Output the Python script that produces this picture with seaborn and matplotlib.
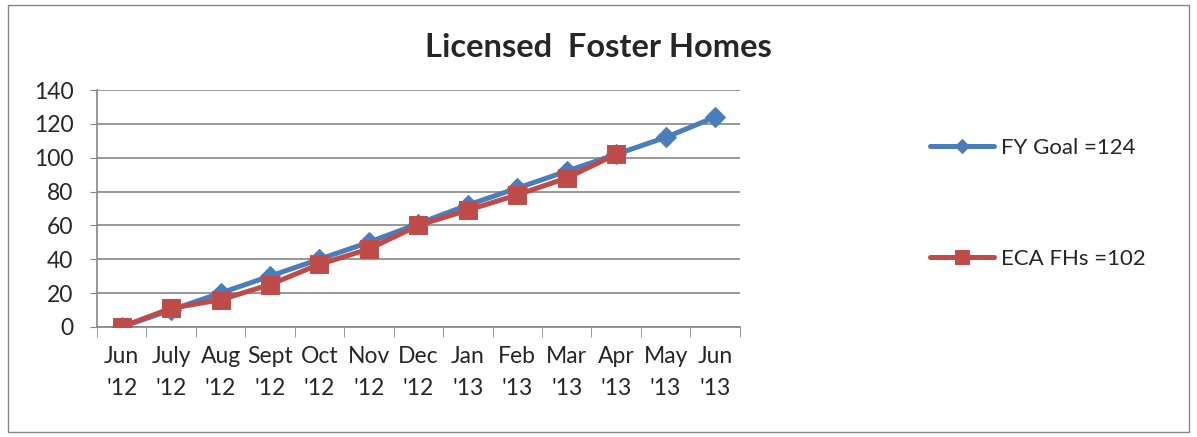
import numpy as np
import pandas as pd
import matplotlib.pyplot as plt
import seaborn as sns
from matplotlib.patches import Rectangle

# data
months = ["Jun\n'12", "July\n'12", "Aug\n'12", "Sept\n'12", "Oct\n'12", "Nov\n'12", "Dec\n'12",
          "Jan\n'13", "Feb\n'13", "Mar\n'13", "Apr\n'13", "May\n'13", "Jun\n'13"]
fy_goal = [0, 10, 20, 30, 40, 50, 61, 72, 82, 92, 102, 112, 124]
eca_fhs = [0, 11, 16, 25, 37, 46, 60, 69, 78, 88, 102]

sns.set_style("white")
plt.rcParams['font.family'] = ['Lato', 'DejaVu Sans']

fig = plt.figure(figsize=(11.97, 4.37), dpi=100)
ax = fig.add_axes([0.081, 0.252, 0.537, 0.542])

goal_df = pd.DataFrame({"pos": np.arange(len(fy_goal)), "val": fy_goal})
eca_df = pd.DataFrame({"pos": np.arange(len(eca_fhs)), "val": eca_fhs})

sns.lineplot(data=goal_df, x="pos", y="val", ax=ax, color="#4A7EBB", linewidth=3.6,
             marker="D", markersize=10, markeredgecolor="#4A7EBB", label="FY Goal =124", zorder=3)
sns.lineplot(data=eca_df, x="pos", y="val", ax=ax, color="#BE4B48", linewidth=3.6,
             marker="s", markersize=13, markeredgecolor="#C0504D", label="ECA FHs =102", zorder=4)

ax.set_xlim(-0.5, len(months) - 0.5)
ax.set_ylim(0, 140)
ax.set_yticks(range(0, 141, 20))
ax.set_xticks(range(len(months)))
ax.set_xticklabels(months, fontsize=16.5, linespacing=1.6)
ax.tick_params(axis="y", labelsize=16.5, length=5, color="#868686", direction="out", left=True, pad=12)
ax.tick_params(axis="x", which="major", length=0, pad=14)
ax.set_xticks(np.arange(-0.5, len(months), 1), minor=True)
ax.tick_params(axis="x", which="minor", length=7, color="#868686", direction="out", bottom=True)
ax.set_xlabel("")
ax.set_ylabel("")
ax.grid(axis="y", color="#868686", linewidth=1.2)
ax.set_axisbelow(True)
for s in ["top", "right"]:
    ax.spines[s].set_visible(False)
for s in ["left", "bottom"]:
    ax.spines[s].set_color("#868686")
    ax.spines[s].set_linewidth(1.2)

ax.legend_.remove()
handles, labels = ax.get_legend_handles_labels()
fig.legend(handles, labels, loc="upper left", bbox_to_anchor=(0.76, 0.73), frameon=False,
           fontsize=16, labelspacing=4.1, handlelength=2.9, handletextpad=0.3, markerscale=0.75)

fig.suptitle("Licensed  Foster Homes", x=0.5, y=0.925, fontsize=23.5, fontweight="bold")

fig.patches.append(Rectangle((0.007, 0.012), 0.986, 0.976, transform=fig.transFigure,
                             fill=False, edgecolor="#868686", linewidth=1))

fig.savefig("out.png", dpi=100)
